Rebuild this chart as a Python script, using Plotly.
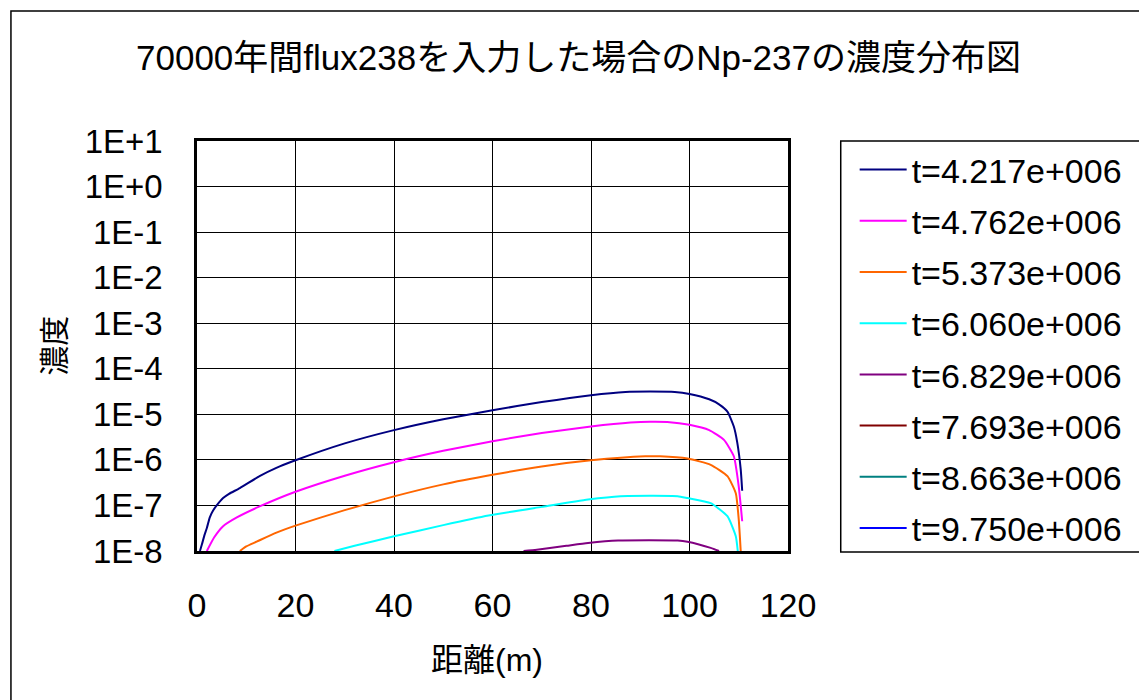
import plotly.graph_objects as go

# ---- data: Np-237 concentration vs distance for each time step ----
series_names = [
    "t=4.217e+006", "t=4.762e+006", "t=5.373e+006", "t=6.060e+006",
    "t=6.829e+006", "t=7.693e+006", "t=8.663e+006", "t=9.750e+006",
]
series_colors = [
    "#000080", "#FF00FF", "#FF6600", "#00FFFF",
    "#800080", "#800000", "#008080", "#0000FF",
]

x_t1 = [0.6, 1.0, 1.5, 2.0, 2.6, 3.3, 4.0, 5.3, 6.5, 8.7, 12.7, 16, 20, 30, 40,
        50, 60, 70, 80, 87, 92, 97, 100, 104, 106, 107.7, 109, 109.7, 110.4, 110.7]
y_t1 = [1.0e-8, 1.4e-8, 2.2e-8, 3.2e-8, 5.5e-8, 7.8e-8, 1.0e-7, 1.45e-7, 1.8e-7,
        2.4e-7, 4.4e-7, 6.6e-7, 9.8e-7, 2.3e-6, 4.5e-6, 7.8e-6, 1.23e-5, 1.86e-5,
        2.63e-5, 3.1e-5, 3.16e-5, 3.1e-5, 2.8e-5, 2.14e-5, 1.66e-5, 1.15e-5,
        5.4e-6, 2.4e-6, 6.2e-7, 2.1e-7]

x_t2 = [2.0, 3.5, 5.3, 8, 12.7, 20, 30, 40, 50, 60, 70, 80, 88, 92, 95.5, 100,
        104, 107, 109, 110, 110.7]
y_t2 = [1.0e-8, 2.0e-8, 3.5e-8, 5.4e-8, 9.5e-8, 2.0e-7, 4.5e-7, 8.9e-7, 1.58e-6,
        2.57e-6, 3.9e-6, 5.4e-6, 6.6e-6, 6.9e-6, 6.8e-6, 5.9e-6, 4.5e-6, 2.75e-6,
        1.2e-6, 2.6e-7, 4.5e-8]

x_t3 = [8.7, 10, 12.1, 16, 20, 30, 40, 50, 60, 70, 80, 91, 94, 99.6, 104.3,
        107.7, 109.4, 110, 110.4]
y_t3 = [1.0e-8, 1.26e-8, 1.6e-8, 2.5e-8, 3.6e-8, 7.9e-8, 1.58e-7, 2.9e-7, 4.7e-7,
        7.2e-7, 9.8e-7, 1.2e-6, 1.2e-6, 1.07e-6, 7.8e-7, 4.4e-7, 1.86e-7, 4.9e-8,
        1.0e-8]

x_t4 = [27.9, 32, 40, 50, 59.2, 70, 79.4, 86, 97.6, 99.6, 104.3, 107.7, 109.4, 109.8]
y_t4 = [1.0e-8, 1.3e-8, 2.1e-8, 3.7e-8, 6.0e-8, 9.3e-8, 1.35e-7, 1.6e-7, 1.6e-7,
        1.45e-7, 1.12e-7, 5.8e-8, 2.1e-8, 1.0e-8]

x_t5 = [66.3, 69, 75, 79.4, 85.5, 97.6, 99.6, 104.3, 106]
y_t5 = [1.0e-8, 1.07e-8, 1.3e-8, 1.5e-8, 1.7e-8, 1.7e-8, 1.6e-8, 1.17e-8, 1.0e-8]

# later time steps stay below the plotted range
x_t6, y_t6 = [], []
x_t7, y_t7 = [], []
x_t8, y_t8 = [], []

xs = [x_t1, x_t2, x_t3, x_t4, x_t5, x_t6, x_t7, x_t8]
ys = [y_t1, y_t2, y_t3, y_t4, y_t5, y_t6, y_t7, y_t8]

y_tickvals = [1e1, 1e0, 1e-1, 1e-2, 1e-3, 1e-4, 1e-5, 1e-6, 1e-7, 1e-8]
y_ticktext = ["1E+1", "1E+0", "1E-1", "1E-2", "1E-3", "1E-4",
              "1E-5", "1E-6", "1E-7", "1E-8"]
x_tickvals = [0, 20, 40, 60, 80, 100, 120]

# ---- layout geometry (pixels) ----
W, H = 1139, 700
PL, PR, PT, PB = 197, 791, 141, 551


def px_x(p):
    return (p - PL) / (PR - PL)


def px_y(p):
    return (PB - p) / (PB - PT)


LAT = "Liberation Sans, Arial, sans-serif"
CJK = "Liberation Sans, Noto Sans CJK JP, sans-serif"

fig = go.Figure()
for name, color, x, y in zip(series_names, series_colors, xs, ys):
    fig.add_trace(go.Scatter(
        x=x if x else [None], y=y if y else [None], name=name, mode="lines",
        line=dict(color=color, width=2, shape="spline", smoothing=0.5),
        legendgroup=name,
    ))

fig.update_layout(
    width=W, height=H,
    margin=dict(l=PL, r=W - PR, t=PT, b=H - PB, pad=0),
    paper_bgcolor="white", plot_bgcolor="white",
    showlegend=True,
    legend=dict(
        x=px_x(858), xanchor="left", y=px_y(141), yanchor="top",
        font=dict(family=LAT, size=34, color="black"),
        bgcolor="rgba(0,0,0,0)", borderwidth=0,
        itemwidth=47, tracegroupgap=4, traceorder="grouped",
        maxheight=700,
    ),
    xaxis=dict(
        range=[0, 120], tickvals=x_tickvals, showgrid=True,
        gridcolor="black", gridwidth=1, zeroline=False,
        showline=True, linecolor="black", linewidth=2.5, mirror=True,
        ticks="", ticklabelstandoff=22,
        tickfont=dict(family=LAT, size=34, color="black"),
    ),
    yaxis=dict(
        type="log", range=[-8, 1], tickvals=y_tickvals, ticktext=y_ticktext,
        showgrid=True, gridcolor="black", gridwidth=1, zeroline=False,
        showline=True, linecolor="black", linewidth=2.5, mirror=True,
        ticks="", ticklabelstandoff=25,
        tickfont=dict(family=LAT, size=33, color="black"),
    ),
    shapes=[
        # outer chart frame
        dict(type="rect", xref="paper", yref="paper",
             x0=px_x(10), x1=px_x(1160), y0=px_y(720), y1=px_y(11),
             line=dict(color="black", width=1.5), layer="below"),
        # legend frame
        dict(type="rect", xref="paper", yref="paper",
             x0=px_x(844), x1=px_x(1160), y0=px_y(552), y1=px_y(141),
             line=dict(color="black", width=1.5), layer="below"),
    ],
    annotations=[
        dict(text="70000年間flux238を入力した場合のNp-237の濃度分布図",
             xref="paper", yref="paper", x=px_x(580), y=px_y(57),
             xanchor="center", yanchor="middle", showarrow=False,
             font=dict(family=CJK, size=35, color="black")),
        dict(text="濃度", xref="paper", yref="paper",
             x=px_x(53), y=px_y(346), textangle=-90,
             xanchor="center", yanchor="middle", showarrow=False,
             font=dict(family=CJK, size=30, color="black")),
        dict(text="距離(m)", xref="paper", yref="paper",
             x=px_x(488), y=px_y(660),
             xanchor="center", yanchor="middle", showarrow=False,
             font=dict(family=CJK, size=32, color="black")),
    ],
)

fig.write_html("out.html")
